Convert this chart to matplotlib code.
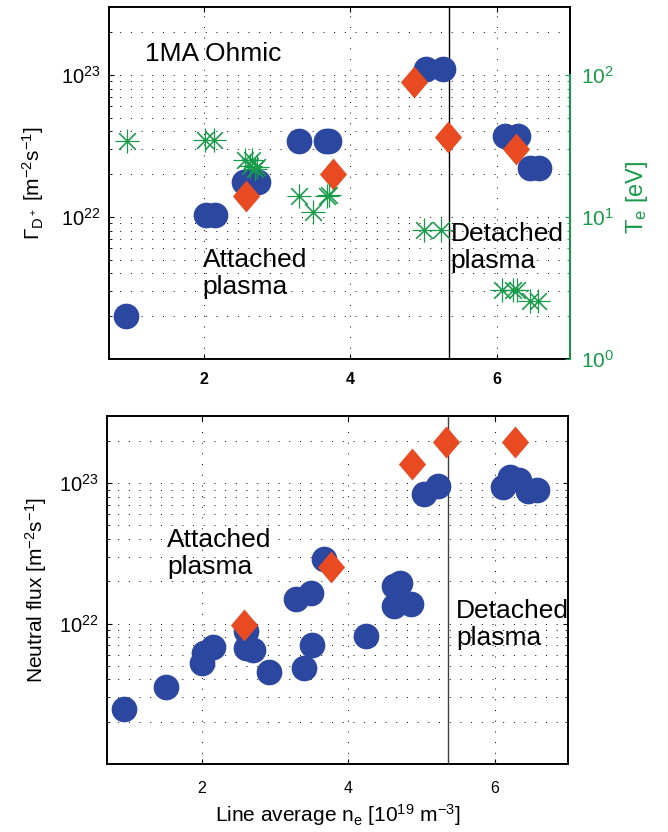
import numpy as np
import matplotlib
matplotlib.use("Agg")
import matplotlib.pyplot as plt
from matplotlib.path import Path
from matplotlib.ticker import FixedLocator, NullLocator, NullFormatter, LogLocator

plt.rcParams["font.family"] = ["Liberation Sans", "DejaVu Sans"]
plt.rcParams["mathtext.default"] = "regular"

# --- top panel: ion flux (circles), probe flux (diamonds), Te (stars) ---
gam_ne = [0.94, 2.03, 2.15, 2.54, 2.62, 2.74, 3.30, 3.67, 3.71, 5.04, 5.27, 6.11, 6.29, 6.45, 6.58]
gam_val = [2.0e21, 1.03e22, 1.03e22, 1.76e22, 1.76e22, 1.76e22, 3.41e22, 3.41e22, 3.41e22,
           1.10e23, 1.10e23, 3.74e22, 3.74e22, 2.2e22, 2.2e22]
gam_dia_ne = [2.57, 3.76, 4.87, 5.33, 6.27]
gam_dia_val = [1.40e22, 2.01e22, 8.93e22, 3.68e22, 3.02e22]

te_ne = [0.95, 2.01, 2.14, 2.56, 2.63, 2.65, 2.70, 2.72, 3.30, 3.49, 3.68, 3.71,
         5.01, 5.24, 6.08, 6.22, 6.28, 6.45, 6.56]
te_val = [34, 35, 35, 25, 23, 25, 21.9, 22.5, 14.0, 10.8, 14.0, 14.3,
          8.07, 8.07, 3.06, 3.06, 3.06, 2.54, 2.54]

# --- bottom panel: neutral flux ---
nf_ne = [0.94, 1.51, 2.00, 2.03, 2.15, 2.60, 2.60, 2.70, 2.91, 3.29, 3.49, 3.67, 3.40, 3.50,
         4.24, 4.62, 4.71, 4.62, 4.85, 5.03, 5.22, 6.12, 6.21, 6.33, 6.46, 6.58]
nf_val = [2.46e21, 3.51e21, 5.27e21, 6.2e21, 6.8e21, 8.8e21, 6.7e21, 6.5e21, 4.55e21, 1.50e22,
          1.65e22, 2.87e22, 4.85e21, 7.1e21, 8.13e21, 1.84e22, 1.96e22, 1.33e22, 1.37e22,
          8.4e22, 9.6e22, 9.4e22, 1.1e23, 1.05e23, 8.85e22, 8.96e22]
nf_dia_ne = [2.57, 3.76, 4.87, 5.34, 6.28]
nf_dia_val = [9.84e21, 2.54e22, 1.37e23, 1.97e23, 1.97e23]

x_ticks = [2, 4, 6]
rollover_ne = 5.35

BLUE = "#2b47a0"
RED = "#e84a22"
GREEN = "#169b48"
DIAMOND = Path([(0, 1), (0.85, 0), (0, -1), (-0.85, 0), (0, 1)],
               [Path.MOVETO, Path.LINETO, Path.LINETO, Path.LINETO, Path.CLOSEPOLY])
GRID = dict(color="k", lw=0.7, ls=(0, (1, 10)))


def style_axes(ax, bold_x=False):
    ax.set_yscale("log")
    ax.set_xlim(0.7, 7.0)
    ax.set_ylim(1e21, 3e23)
    ax.set_xticks(x_ticks)
    ax.xaxis.set_minor_locator(NullLocator())
    ax.set_yticks([1e22, 1e23])
    ax.set_yticklabels([r"$10^{22}$", r"$10^{23}$"], fontsize=14.5)
    ax.yaxis.set_minor_locator(LogLocator(base=10, subs=np.arange(2, 10)))
    ax.yaxis.set_minor_formatter(NullFormatter())
    ax.set_xticklabels([str(t) for t in x_ticks], fontsize=11.5,
                       fontweight="bold" if bold_x else "normal")
    ax.grid(True, which="major", axis="x", **GRID)
    ax.grid(True, which="both", axis="y", **GRID)
    ax.set_axisbelow(True)
    for s in ax.spines.values():
        s.set_linewidth(1.4)


def draw_points(ax, ne, val, dne, dval):
    ax.plot(ne, val, "o", color=BLUE, ms=18.5, mew=0, zorder=3)
    ax.plot(dne, dval, ls="none", marker=DIAMOND, color=RED, ms=23, mew=0, zorder=4)


fig = plt.figure(figsize=(6.68, 8.32), dpi=100)

# top panel
ax1 = fig.add_axes([0.163, 0.5685, 0.690, 0.423])
style_axes(ax1, bold_x=True)
ax1.tick_params(which="both", direction="in", top=True, right=False, pad=9)
ax1.tick_params(axis="y", pad=6)
draw_points(ax1, gam_ne, gam_val, gam_dia_ne, gam_dia_val)
ax1.axvline(rollover_ne, color="k", lw=1.0, zorder=2)
ax1.text(1.2, 1.40e23, "1MA Ohmic", fontsize=19, va="center", ha="left")
ax1.text(1.98, 4.0e21, "Attached\nplasma", fontsize=19, va="center", ha="left", linespacing=1.15)
ax1.text(5.37, 6.1e21, "Detached\nplasma", fontsize=19, va="center", ha="left", linespacing=1.15)
ax1.text(-0.165, 0.5, r"$\Gamma_{D^+}$ [m$^{-2}$s$^{-1}$]", transform=ax1.transAxes,
         rotation=90, ha="center", va="center", fontsize=15)

axT = ax1.twinx()
axT.set_yscale("log")
axT.set_ylim(1, 300)
axT.plot(te_ne, te_val, ls="none", marker=(8, 2, 0), color=GREEN, ms=17, mew=0.8)
axT.set_yticks([1, 10, 100])
axT.set_yticklabels([r"$10^{0}$", r"$10^{1}$", r"$10^{2}$"], fontsize=15)
axT.yaxis.set_minor_locator(FixedLocator([m * d for d in (1, 10) for m in range(2, 10)]))
axT.yaxis.set_minor_formatter(NullFormatter())
axT.tick_params(axis="y", which="both", direction="in", colors=GREEN, pad=8)
axT.spines["right"].set_bounds(1, 100)
axT.spines["right"].set_color(GREEN)
axT.spines["right"].set_linewidth(1.4)
for side in ("left", "top", "bottom"):
    axT.spines[side].set_visible(False)
axT.text(1.145, 0.459, r"T$_e$ [eV]", transform=axT.transAxes, rotation=90,
         ha="center", va="center", fontsize=17, color=GREEN)

# bottom panel
ax2 = fig.add_axes([0.160, 0.0817, 0.690, 0.418])
style_axes(ax2)
ax2.tick_params(which="both", direction="in", top=True, right=True, pad=12)
ax2.tick_params(axis="y", pad=6)
draw_points(ax2, nf_ne, nf_val, nf_dia_ne, nf_dia_val)
ax2.axvline(5.36, color="0.25", lw=1.0, zorder=2)
ax2.text(1.52, 3.18e22, "Attached\nplasma", fontsize=19, va="center", ha="left", linespacing=1.15)
ax2.text(5.47, 9.8e21, "Detached\nplasma", fontsize=19, va="center", ha="left", linespacing=1.15)
ax2.text(-0.154, 0.5, r"Neutral flux [m$^{-2}$s$^{-1}$]", transform=ax2.transAxes,
         rotation=90, ha="center", va="center", fontsize=15)
ax2.text(0.501, -0.147, r"Line average n$_e$ [10$^{19}$ m$^{-3}$]", transform=ax2.transAxes,
         ha="center", va="center", fontsize=15)

fig.savefig("out.png", dpi=100)
